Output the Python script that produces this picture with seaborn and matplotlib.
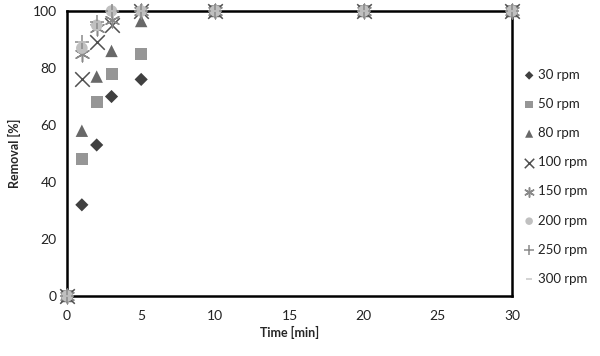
import matplotlib

matplotlib.use("Agg")

import matplotlib.pyplot as plt
import pandas as pd
import seaborn as sns

time_min = [0, 1, 2, 3, 5, 10, 20, 30]
labels = ["30 rpm", "50 rpm", "80 rpm", "100 rpm", "150 rpm", "200 rpm", "250 rpm", "300 rpm"]
removal = {
    "30 rpm": [0, 32, 53, 70, 76, 100, 100, 100],
    "50 rpm": [0, 48, 68, 78, 85, 100, 100, 100],
    "80 rpm": [0, 58, 77, 86, 96.5, 100, 100, 100],
    "100 rpm": [0, 76, 89, 95, 100, 100, 100, 100],
    "150 rpm": [0, 85, 94, 97, 100, 100, 100, 100],
    "200 rpm": [0, 87, 95, 100, 100, 100, 100, 100],
    "250 rpm": [0, 89, 96, 100, 100, 100, 100, 100],
    "300 rpm": [0, 89, 96, 100, 100, 100, 100, 100],
}

markers = ["D", "s", "^", "x", (6, 2, 0), "o", "+", "_"]
colors = ["#404040", "#969696", "#686868", "#505050", "#8a8a8a", "#c0c0c0", "#8a8a8a", "#c8c8c8"]
sizes = [45, 75, 80, 110, 110, 70, 110, 40]

sns.set_theme(style="white")
plt.rcParams["font.family"] = ["Lato", "DejaVu Sans"]

fig = plt.figure(figsize=(6.0, 3.56), dpi=100)
ax = fig.add_axes([0.1117, 0.1685, 0.7416, 0.8005])

for lab, mk, col, sz in zip(labels, markers, colors, sizes):
    df = pd.DataFrame({"t": time_min, "r": removal[lab]})
    filled = mk in ("D", "s", "^", "o")
    kw = dict(edgecolor="none") if filled else dict(linewidth=1.1)
    sns.scatterplot(data=df, x="t", y="r", marker=mk, color=col, s=sz,
                    label=lab, ax=ax, clip_on=False, zorder=3, **kw)

ax.set_xlim(0, 30)
ax.set_ylim(0, 100)
ax.set_xticks(range(0, 31, 5))
ax.set_yticks(range(0, 101, 20))
for sp in ax.spines.values():
    sp.set_color("black")
    sp.set_linewidth(1.8)
ax.tick_params(axis="both", direction="out", length=4, width=0.8, colors="#888888",
               labelcolor="#222222", labelsize=10)
ax.tick_params(axis="x", pad=6)
ax.set_xlabel("Time [min]", fontsize=9, fontweight="bold", labelpad=3)
ax.set_ylabel("Removal [%]", fontsize=9, fontweight="bold", labelpad=8)

leg = ax.legend(loc="center left", bbox_to_anchor=(1.0, 0.418), frameon=False,
                fontsize=9.5, labelspacing=1.3, handletextpad=0.1, borderaxespad=0.3,
                handlelength=1.2, markerscale=0.65)
for txt in leg.get_texts():
    txt.set_color("#222222")

fig.savefig("out.png", dpi=100)
